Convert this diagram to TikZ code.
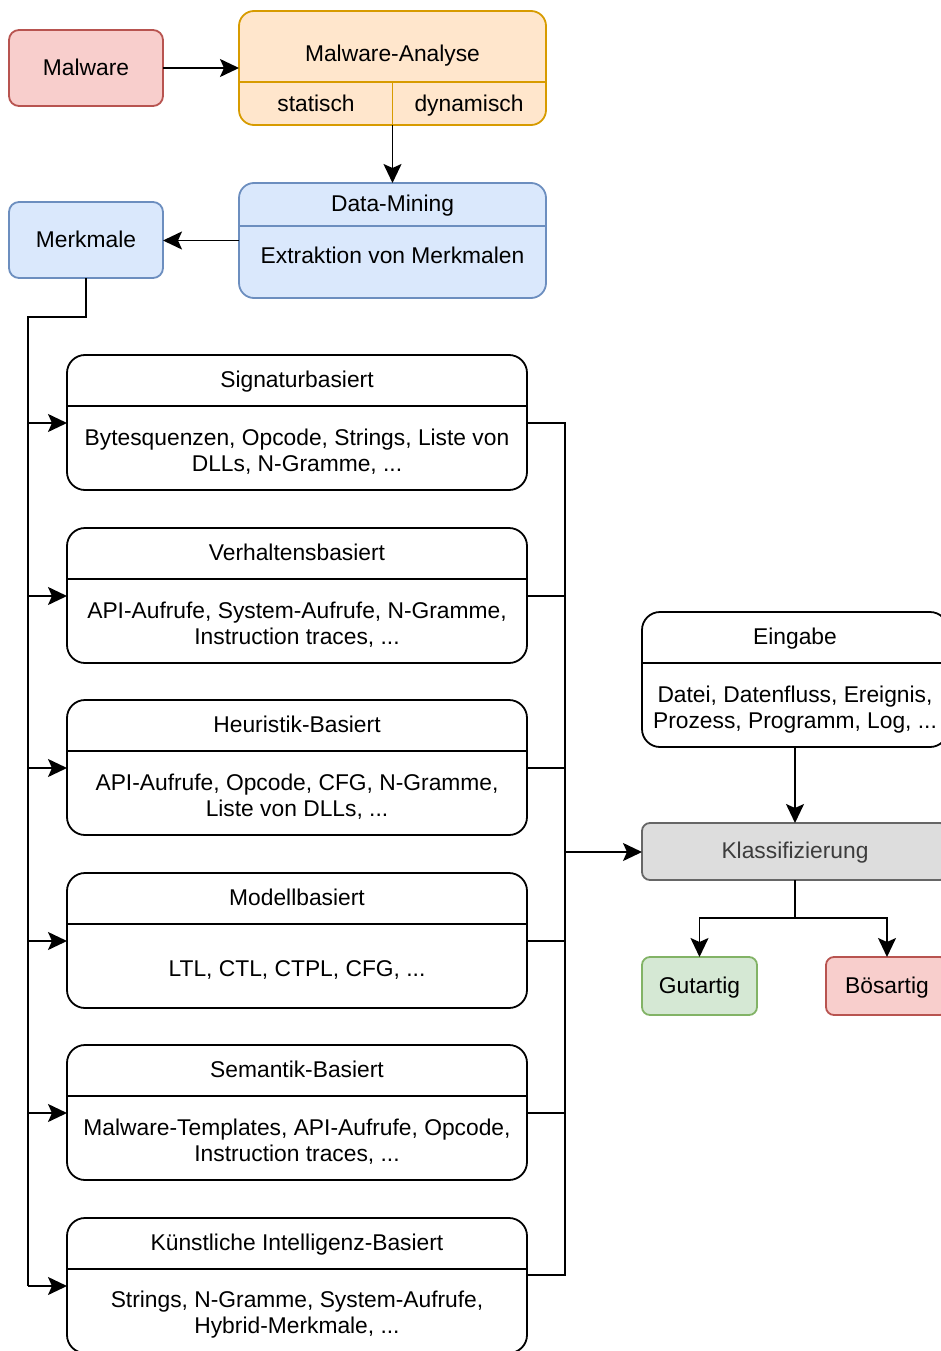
\documentclass[tikz,border=0pt]{standalone}
\usepackage{fontspec}
\setmainfont{Liberation Sans}
\usetikzlibrary{arrows.meta,calc}

\definecolor{redfill}{HTML}{F8CECC}
\definecolor{redline}{HTML}{B85450}
\definecolor{orangefill}{HTML}{FFE6CC}
\definecolor{orangeline}{HTML}{D79B00}
\definecolor{bluefill}{HTML}{DAE8FC}
\definecolor{blueline}{HTML}{6C8EBF}
\definecolor{greenfill}{HTML}{D5E8D4}
\definecolor{greenline}{HTML}{82B366}
\definecolor{grayfill}{HTML}{DDDDDD}
\definecolor{grayline}{HTML}{666666}
\definecolor{graytext}{HTML}{3C3C3C}

\tikzset{
  every node/.style={inner sep=0pt, outer sep=0pt},
  lbl/.style={text height=16.4pt, text depth=2pt},
  conn/.style={line width=1.8pt, -{Stealth[length=19pt,width=18pt,inset=4pt]}},
  wire/.style={line width=1.8pt},
  smallbox/.style={draw, line width=1.8pt, rounded corners=10pt, lbl,
    minimum width=154pt, minimum height=76pt},
  groupbox/.style={draw, line width=1.8pt, rounded corners=15pt,
    minimum width=307pt},
  lane/.style={draw=black, fill=white, line width=1.8pt, rounded corners=18pt,
    minimum width=460pt, minimum height=135pt},
  result/.style={draw, line width=1.8pt, rounded corners=8pt, lbl, minimum height=58pt},
}

% a titled box with a header row and a body row
\newcommand\lanebox[4]{%
  \node[lane] (#1) at (297,{#2+67.5}) {};
  \draw[wire] (67,{#2+51}) -- (527,{#2+51});
  \node[lbl] (#1Title) at (297,{#2+25}) {#3};
  \node[align=center] (#1Body) at (297,{#2+97}) {#4};
  \coordinate (#1In) at (67,{#2+68});
  \coordinate (#1Out) at (527,{#2+68});
}

\begin{document}
\begin{tikzpicture}[x=1pt,y=-1pt,font=\fontsize{22.8}{26}\selectfont]
\useasboundingbox (0,0) rectangle (940,1351);

% --- analysis chain ---
\node[smallbox, fill=redfill, draw=redline] (malware) at (86,68) {Malware};

\node[groupbox, fill=orangefill, draw=orangeline, minimum height=114pt] (analyse) at (392.5,68) {};
\draw[wire, orangeline] (239,82) -- (546,82);
\draw[wire, orangeline] (392.5,82) -- (392.5,125);
\node[lbl] (analyseTitle) at (392.5,54) {Malware-Analyse};
\node[lbl] (statisch) at (316,104) {statisch};
\node[lbl] (dynamisch) at (469,104) {dynamisch};

\node[groupbox, fill=bluefill, draw=blueline, minimum height=115pt] (mining) at (392.5,240.5) {};
\draw[wire, blueline] (239,226) -- (546,226);
\node[lbl] (miningTitle) at (392.5,204) {Data-Mining};
\node[lbl] (miningBody) at (392.5,256) {Extraktion von Merkmalen};

\node[smallbox, fill=bluefill, draw=blueline] (merkmale) at (86,240) {Merkmale};

\draw[conn] (malware.east) -- (analyse.west);
\draw[conn] (analyse.south) -- (mining.north);
\draw[conn] (mining.west) -- (mining.west -| merkmale.east);

% --- detection approaches ---
\lanebox{sig}{355}{Signaturbasiert}{Bytesquenzen, Opcode, Strings, Liste von\\DLLs, N-Gramme, ...}
\lanebox{verh}{528}{Verhaltensbasiert}{API-Aufrufe, System-Aufrufe, N-Gramme,\\Instruction traces, ...}
\lanebox{heur}{700}{Heuristik-Basiert}{API-Aufrufe, Opcode, CFG, N-Gramme,\\Liste von DLLs, ...}
\lanebox{mod}{873}{Modellbasiert}{LTL, CTL, CTPL, CFG, ...}
\lanebox{sem}{1045}{Semantik-Basiert}{Malware-Templates, API-Aufrufe, Opcode,\\Instruction traces, ...}
\lanebox{ki}{1218}{Künstliche Intelligenz-Basiert}{Strings, N-Gramme, System-Aufrufe,\\Hybrid-Merkmale, ...}
\coordinate (kiOut) at (527,1275);

% left distribution bus
\coordinate (busTop) at (28,317);
\draw[wire] (merkmale.south) |- (busTop) -- (kiIn -| busTop);
\foreach \b in {sig,verh,heur,mod,sem,ki}
  \draw[conn] (\b In -| busTop) -- (\b In);

% right collection bus
\coordinate (busR) at (565,852);
\draw[wire] (sigOut) -- (sigOut -| busR) -- (kiOut -| busR) -- (kiOut);
\foreach \b in {verh,heur,mod,sem}
  \draw[wire] (\b Out) -- (\b Out -| busR);

% --- classification ---
\node[lane, minimum width=306pt] (eingabe) at (795,679.5) {};
\draw[wire] (642,663) -- (948,663);
\node[lbl] (eingabeTitle) at (795,637) {Eingabe};
\node[align=center] (eingabeBody) at (795,710) {Datei, Datenfluss, Ereignis,\\Prozess, Programm, Log, ...};

\node[draw=grayline, fill=grayfill, line width=1.8pt, rounded corners=8pt, lbl,
  minimum width=306pt, minimum height=57pt, text=graytext] (klass) at (795,851.5) {Klassifizierung};

\node[result, fill=greenfill, draw=greenline, minimum width=115pt] (gut) at (699.5,986) {Gutartig};
\node[result, fill=redfill, draw=redline, minimum width=122pt] (boes) at (887,986) {Bösartig};

\draw[conn] (busR) -- (busR -| klass.west);
\draw[conn] (eingabe.south) -- (klass.north);
\draw[wire] (klass.south) -- ++(0,38) coordinate (split);
\draw[conn] (split) -| (gut.north);
\draw[conn] (split) -| (boes.north);
\end{tikzpicture}
\end{document}
